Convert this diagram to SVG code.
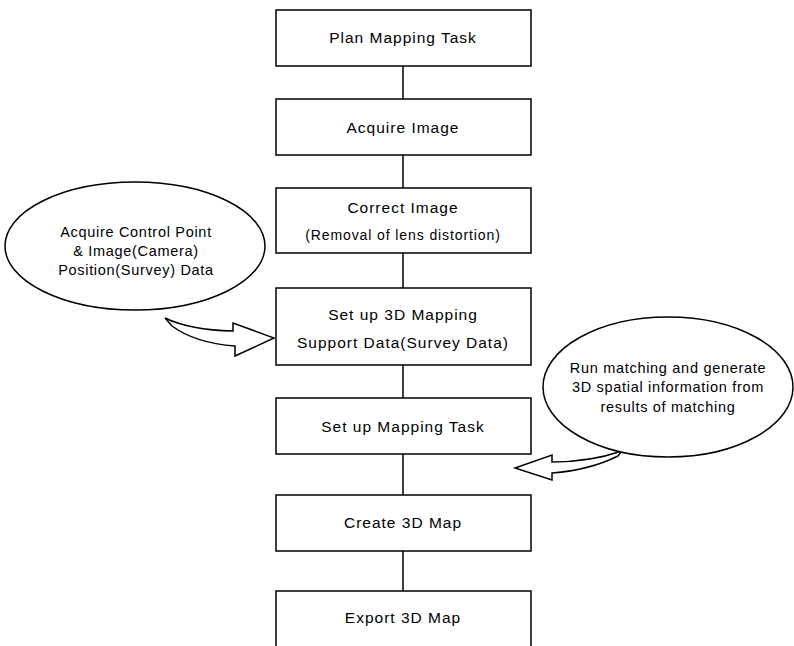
<svg xmlns="http://www.w3.org/2000/svg" width="794" height="646" viewBox="0 0 794 646">
<style>
.box{fill:#fff;stroke:#000;stroke-width:1.5}
.t{font-family:"Liberation Sans",Arial,sans-serif;font-size:15.5px;fill:#000;text-anchor:middle;letter-spacing:1px}
.s{font-size:14px;letter-spacing:0.9px}
.m{font-size:14.5px;letter-spacing:0.7px}
.e{fill:#fff;stroke:#000;stroke-width:1.5}
.c{stroke:#000;stroke-width:1.5;fill:none}
.ba{fill:#fff;stroke:#000;stroke-width:1.5;stroke-linejoin:miter}
</style>
<g id="connectors">
<line class="c" x1="403" y1="66" x2="403" y2="99"/>
<line class="c" x1="403" y1="155" x2="403" y2="188"/>
<line class="c" x1="403" y1="253" x2="403" y2="288"/>
<line class="c" x1="403" y1="365" x2="403" y2="398"/>
<line class="c" x1="403" y1="454" x2="403" y2="495"/>
<line class="c" x1="403" y1="551" x2="403" y2="591"/>
<path id="arrow1" class="ba" d="M165,318 Q190,330 233,331 L233,323 L274,338 L235,356 L235,346 Q195,343 172,326 Z"/>
<path id="arrow2" class="ba" d="M622,451 Q590,462 552,462 L552,455 L515,468 L552,480 L552,473 Q590,470 618,456 Z"/>
</g>
<g id="n1"><rect class="box" x="276" y="10" width="255" height="56"/><text class="t" x="403" y="43">Plan Mapping Task</text></g>
<g id="n2"><rect class="box" x="276" y="99" width="255" height="56"/><text class="t" x="403" y="133">Acquire Image</text></g>
<g id="n3"><rect class="box" x="276" y="188" width="255" height="65"/><text class="t" x="403" y="213">Correct Image</text><text class="t s" x="403" y="240">(Removal of lens distortion)</text></g>
<g id="n4"><rect class="box" x="276" y="288" width="255" height="77"/><text class="t" x="403" y="320">Set up 3D Mapping</text><text class="t" x="403" y="348">Support Data(Survey Data)</text></g>
<g id="n5"><rect class="box" x="276" y="398" width="255" height="56"/><text class="t" x="403" y="432">Set up Mapping Task</text></g>
<g id="n6"><rect class="box" x="276" y="495" width="255" height="56"/><text class="t" x="403" y="528">Create 3D Map</text></g>
<g id="n7"><rect class="box" x="276" y="591" width="255" height="60"/><text class="t" x="403" y="623">Export 3D Map</text></g>
<g id="e1"><ellipse class="e" cx="135" cy="246" rx="130" ry="64"/><text class="t m" x="136" y="237">Acquire Control Point</text><text class="t m" x="136" y="256">&amp; Image(Camera)</text><text class="t m" x="136" y="275">Position(Survey) Data</text></g>
<g id="e2"><ellipse class="e" cx="668" cy="387" rx="125" ry="70"/><text class="t m" x="668" y="373">Run matching and generate</text><text class="t m" x="668" y="392">3D spatial information from</text><text class="t m" x="668" y="412">results of matching</text></g>
</svg>
